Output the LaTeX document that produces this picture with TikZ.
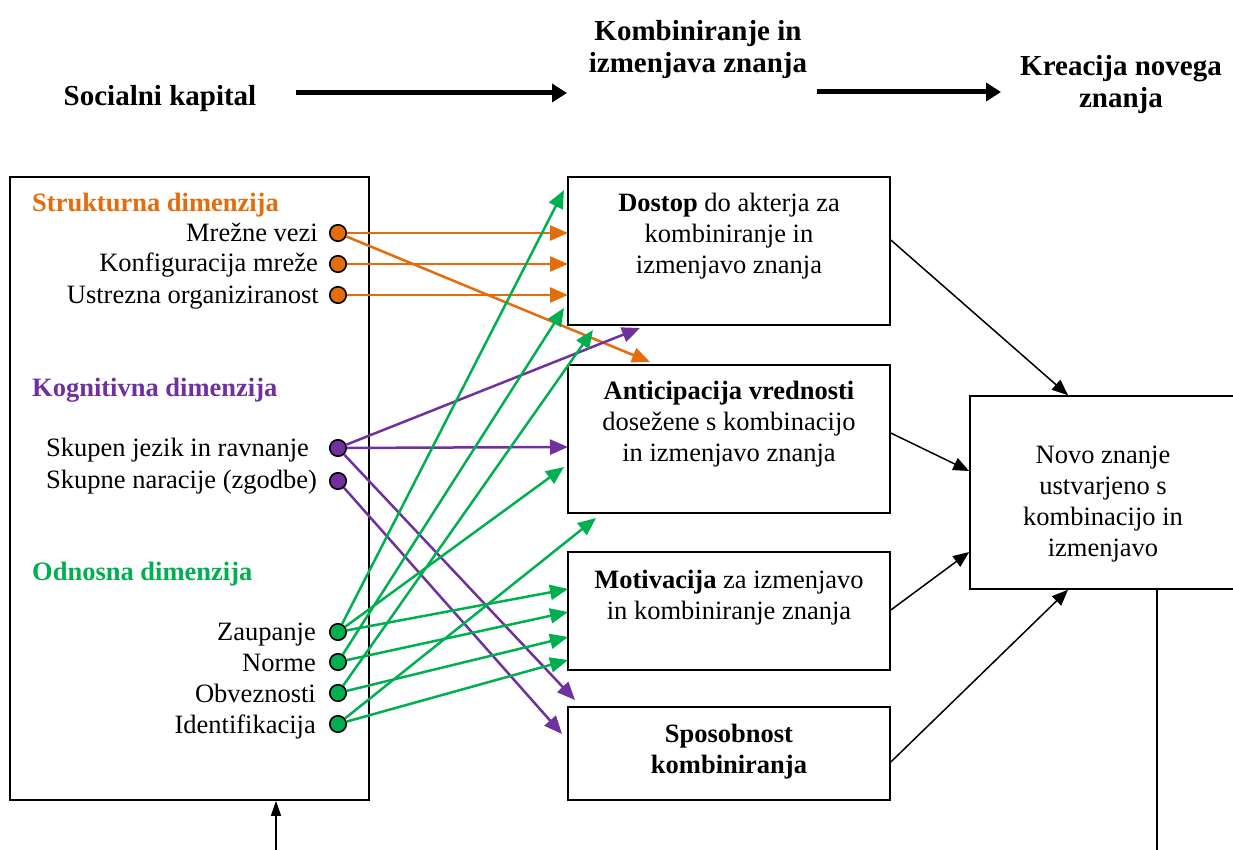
\documentclass[tikz,border=0pt]{standalone}
\usepackage{fontspec}
\setmainfont{Liberation Serif}
\usetikzlibrary{arrows.meta,calc}
\definecolor{cOr}{RGB}{228,108,10}
\definecolor{cPu}{RGB}{112,48,160}
\definecolor{cGr}{RGB}{0,176,80}
\begin{document}
\begin{tikzpicture}[x=1pt,y=-1pt,
  body/.style={font=\fontsize{26.5}{31}\selectfont, inner sep=0pt},
  head/.style={font=\fontsize{29}{32.5}\selectfont\bfseries, inner sep=0pt, align=center},
  box/.style={draw, line width=1.6pt, inner sep=0pt},
  dot/.style={circle, draw=black, line width=1.6pt, fill=#1, minimum size=16.5pt, inner sep=0pt},
  carr/.style={line width=2.5pt, draw=#1, -{Triangle[length=18pt,width=15pt]}},
  barr/.style={line width=1.5pt, -{Triangle[length=16pt,width=13pt]}},
  harr/.style={line width=5pt, -{Triangle[length=15pt,width=18pt]}}]
\useasboundingbox (0,0) rectangle (1233,850);

% header
\node[head, anchor=base] (soc) at (160,106) {Socialni kapital};
\node[head, anchor=north] (komb) at (698,17.25) {\strut Kombiniranje in\\izmenjava znanja};
\node[head, anchor=north] (krea) at (1121,52.25) {\strut Kreacija novega\\znanja};
\coordinate (h1s) at (296,93); \coordinate (h1e) at (567,93);
\coordinate (h2s) at (817,92); \coordinate (h2e) at (1001,92);
\draw[harr] (h1s) -- (h1e);
\draw[harr] (h2s) -- (h2e);

% boxes
\node[box, minimum width=359pt, minimum height=623pt] (left) at (189.5,488.5) {};
\node[box, minimum width=322pt, minimum height=148pt] (dostop) at (729,251) {};
\node[box, minimum width=322pt, minimum height=148pt] (antic) at (729,439) {};
\node[box, minimum width=322pt, minimum height=118pt] (motiv) at (729,611) {};
\node[box, minimum width=322pt, minimum height=93pt] (spos) at (729,753.5) {};
\node[box, minimum width=267pt, minimum height=193pt] (novo) at (1103.5,492.5) {};

% box texts
\node[body, anchor=north, align=center] (tdostop) at (729,189.3) {\strut\textbf{Dostop} do akterja za\\kombiniranje in\\izmenjavo znanja};
\node[body, anchor=north, align=center] (tantic) at (729,377.3) {\strut\textbf{Anticipacija vrednosti}\\dosežene s kombinacijo\\in izmenjavo znanja};
\node[body, anchor=north, align=center] (tmotiv) at (729,566.3) {\strut\textbf{Motivacija} za izmenjavo\\in kombiniranje znanja};
\node[body, anchor=north, align=center, font=\fontsize{26.5}{31}\selectfont\bfseries] (tspos) at (729,720.3) {\strut Sposobnost\\kombiniranja};
\node[body, anchor=north, align=center] (tnovo) at (1103,441.3) {\strut Novo znanje\\ustvarjeno s\\kombinacijo in\\izmenjavo};

% left headings
\node[body, anchor=base west, text=cOr] (hstr) at (32,212) {\bfseries Strukturna dimenzija};
\node[body, anchor=base west, text=cPu] (hkog) at (32,396) {\bfseries Kognitivna dimenzija};
\node[body, anchor=base west, text=cGr] (hodn) at (32,580) {\bfseries Odnosna dimenzija};

% left items
\node[body, anchor=base east] (tmv) at (318,241) {Mrežne vezi};
\node[body, anchor=base east] (tkm) at (318,272) {Konfiguracija mreže};
\node[body, anchor=base east] (tuo) at (319,303) {Ustrezna organiziranost};
\node[body, anchor=base west] (tsj) at (46,456) {Skupen jezik in ravnanje};
\node[body, anchor=base west] (tsn) at (46,488) {Skupne naracije (zgodbe)};
\node[body, anchor=base east] (tza) at (316,640) {Zaupanje};
\node[body, anchor=base east] (tno) at (316,671) {Norme};
\node[body, anchor=base east] (tob) at (316,702) {Obveznosti};
\node[body, anchor=base east] (tid) at (316,733) {Identifikacija};

% dots
\node[dot=cOr] (mv) at (338,233) {};
\node[dot=cOr] (km) at (338,264) {};
\node[dot=cOr] (uo) at (338,295) {};
\node[dot=cPu] (sj) at (338,448) {};
\node[dot=cPu] (sn) at (338,481) {};
\node[dot=cGr] (za) at (338,632) {};
\node[dot=cGr] (no) at (338,662) {};
\node[dot=cGr] (ob) at (338,693) {};
\node[dot=cGr] (id) at (338,724) {};

% target coordinates
\coordinate (o1) at (568,233);
\coordinate (o2) at (650,362);
\coordinate (o3) at (568,264);
\coordinate (o4) at (568,295);
\coordinate (p1) at (640,328);
\coordinate (p2) at (568,447);
\coordinate (p3) at (575,700);
\coordinate (p4) at (562,734);
\coordinate (g1) at (564,190);
\coordinate (g2) at (564,467);
\coordinate (g3) at (568,589);
\coordinate (g4) at (564,308);
\coordinate (g5) at (568,612);
\coordinate (g6) at (593,330);
\coordinate (g7) at (568,637);
\coordinate (g8) at (596,518);
\coordinate (g9) at (568,660);

% coloured connectors
\draw[carr=cOr] (mv) -- (o1);
\draw[carr=cOr] (mv) -- (o2);
\draw[carr=cOr] (km) -- (o3);
\draw[carr=cOr] (uo) -- (o4);
\draw[carr=cPu] (sj) -- (p1);
\draw[carr=cPu] (sj) -- (p2);
\draw[carr=cPu] (sj) -- (p3);
\draw[carr=cPu] (sn) -- (p4);
\draw[carr=cGr] (za) -- (g1);
\draw[carr=cGr] (za) -- (g2);
\draw[carr=cGr] (za) -- (g3);
\draw[carr=cGr] (no) -- (g4);
\draw[carr=cGr] (no) -- (g5);
\draw[carr=cGr] (ob) -- (g6);
\draw[carr=cGr] (ob) -- (g7);
\draw[carr=cGr] (id) -- (g8);
\draw[carr=cGr] (id) -- (g9);

% black connectors
\coordinate (b1s) at (dostop.east |- 0,240);
\coordinate (b1e) at (novo.north -| 1068,0);
\coordinate (b2s) at (antic.east |- 0,433);
\coordinate (b2e) at (novo.west |- 0,471);
\coordinate (b3s) at (motiv.east |- 0,610);
\coordinate (b3e) at (novo.west |- 0,552);
\coordinate (b4s) at (spos.east |- 0,762);
\coordinate (b4e) at (novo.south -| 1068,0);
\draw[barr] (b1s) -- (b1e);
\draw[barr] (b2s) -- (b2e);
\draw[barr] (b3s) -- (b3e);
\draw[barr] (b4s) -- (b4e);

% bottom lines
\coordinate (upS) at (276,850);
\draw[line width=1.2pt, -{Triangle[length=15pt,width=10pt]}] (upS) -- (left.south -| upS);
\coordinate (vEnd) at (1157,850);
\draw[line width=1.2pt] (novo.south -| vEnd) -- (vEnd);
\end{tikzpicture}
\end{document}
